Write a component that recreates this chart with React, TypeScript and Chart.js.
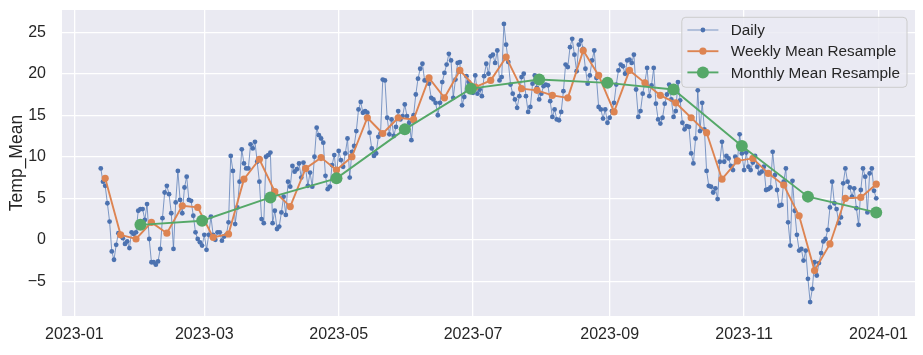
import React, { useEffect, useRef } from "react";
import { Chart, registerables } from "chart.js";

Chart.register(...registerables);

// ---------------- data ----------------
const dailyStart = "2023-01-13";
const janDaily = [8.6, 7.0, 6.5, 4.4, 2.2, -1.4, -2.4, -0.6, 0.8, 0.6, 0.2, -0.5, -0.2, -1.0, 0.9, 0.7, 0.9, 3.5, 3.7];
const febDaily = [3.7, 2.4, 4.3, 0.1, -2.7, -2.7, -3.0, -2.6, -1.1, 2.6, 5.7, 6.5, 5.5, 3.2, -1.1, 4.5, 8.3, 4.8, 3.2, 6.3, 7.6, 4.8, 4.7, 2.9, 0.9, 0.1, -0.3, -0.7];
const marDaily = [0.6, -1.2, 0.6, 2.8, 0.6, 0.0, 0.9, 0.9, -0.1, 0.4, 0.6, 2.1, 10.1, 8.3, 1.9, 3.9, 7.0, 10.9, 9.2, 8.6, 8.6, 11.5, 11.0, 11.8, 9.4, 7.0, 2.5, 2.0, 10.0, 10.2, 10.5];
const aprDaily = [2.0, 3.5, 1.3, 1.6, 3.3, 5.2, 3.0, 7.0, 6.4, 8.9, 8.2, 8.5, 9.2, 7.5, 9.3, 8.6, 6.5, 8.1, 6.4, 10.0, 13.5, 12.6, 12.2, 11.7, 7.7, 6.1, 6.4, 9.0, 10.2, 7.7];
const mayDaily = [10.7, 9.6, 8.8, 10.4, 12.2, 7.5, 10.6, 11.3, 13.1, 15.7, 16.6, 15.3, 15.5, 15.3, 12.9, 11.0, 10.1, 10.4, 12.4, 12.8, 19.3, 19.2, 14.7, 12.7, 14.5, 12.5, 13.6, 15.5, 14.5, 14.9, 16.3];
const junDaily = [14.9, 14.1, 12.0, 15.0, 17.5, 19.4, 20.6, 21.2, 19.2, 19.2, 18.8, 17.1, 16.9, 16.5, 15.0, 16.5, 19.0, 20.1, 21.1, 22.4, 21.6, 17.1, 19.3, 21.3, 21.4, 16.2, 17.2, 19.7, 19.0, 18.0];
const julDaily = [17.7, 19.8, 17.6, 18.1, 17.3, 19.7, 21.2, 20.0, 22.1, 22.3, 21.3, 22.8, 19.2, 19.6, 26.0, 23.5, 21.4, 18.7, 17.6, 16.9, 15.9, 17.3, 19.6, 20.0, 17.3, 15.4, 16.0, 18.8, 19.8, 18.3, 16.9];
const augDaily = [17.6, 18.5, 18.7, 18.6, 16.7, 14.8, 15.7, 14.5, 14.4, 15.4, 17.9, 21.1, 20.8, 23.2, 24.2, 22.3, 20.3, 23.5, 24.0, 23.0, 20.6, 18.8, 19.8, 21.6, 22.8, 19.5, 16.0, 15.7, 14.6, 15.7, 14.1];
const sepDaily = [14.7, 15.5, 16.5, 18.7, 20.4, 21.1, 20.9, 20.0, 21.6, 21.7, 21.3, 22.3, 18.1, 14.8, 15.5, 17.6, 19.0, 20.7, 17.3, 18.6, 20.7, 16.4, 14.5, 14.0, 14.7, 16.4, 17.5, 18.7, 16.9, 14.8];
const octDaily = [15.5, 19.0, 16.8, 14.1, 13.3, 13.7, 13.6, 10.4, 9.2, 12.2, 18.0, 13.1, 16.5, 13.3, 8.3, 6.5, 6.4, 5.7, 6.2, 4.9, 9.4, 11.8, 9.4, 10.1, 9.8, 8.9, 8.4, 10.0, 9.5, 12.7, 10.4];
const novDaily = [8.4, 10.5, 8.8, 8.4, 9.3, 10.1, 8.8, 8.0, 8.2, 8.8, 6.0, 6.1, 6.3, 10.6, 7.8, 6.0, 4.1, 4.2, 7.0, 8.6, 2.1, -0.7, 7.1, 3.5, 0.6, -1.3, -1.1, -2.5, -1.3, -4.7];
const decDaily = [-7.5, -5.9, -2.7, -4.3, -2.8, -1.6, -0.2, 0.1, 1.2, 3.9, 7.0, 4.4, 3.7, 2.0, 2.7, 6.8, 8.6, 7.0, 6.3, 5.2, 6.2, 3.8, 1.8, 6.0, 8.6, 7.6, 3.3, 8.0, 8.6, 5.9, 5.0];

const weeklyStart = "2023-01-15";
const weeklyMean = [
  7.4, 0.6, 0.1, 2.1, 0.8, 4.1, 3.9, 0.3, 0.7, 7.3, 9.7, 5.8, 4.0, 8.6, 9.9, 8.4, 10.0,
  14.7, 12.8, 14.7, 14.5, 19.5, 17.1, 20.4, 18.4, 19.2, 22.0, 18.2, 18.0, 17.4, 17.1,
  22.8, 19.8, 15.4, 20.4, 18.9, 17.4, 16.5, 14.7, 12.9, 7.3, 9.5, 9.8, 8.0, 6.6, 2.9,
  -3.7, -0.5, 5.0, 5.1, 6.7,
];

const monthEnds = ["2023-01-31", "2023-02-28", "2023-03-31", "2023-04-30", "2023-05-31", "2023-06-30", "2023-07-31", "2023-08-31", "2023-09-30", "2023-10-31", "2023-11-30", "2023-12-31"];
const monthlyMean = [1.8, 2.3, 5.1, 7.4, 13.3, 18.2, 19.3, 18.9, 18.1, 11.3, 5.2, 3.3];

const xTickDates = ["2023-01-01", "2023-03-01", "2023-05-01", "2023-07-01", "2023-09-01", "2023-11-01", "2024-01-01"];
const xTickLabels = ["2023-01", "2023-03", "2023-05", "2023-07", "2023-09", "2023-11", "2024-01"];
const yTickValues = [-5, 0, 5, 10, 15, 20, 25];
const seriesLabels = ["Daily", "Weekly Mean Resample", "Monthly Mean Resample"];
const yAxisTitle = "Temp_Mean";

// ---------------- helpers ----------------
const ORIGIN = Date.UTC(2023, 0, 1);
const DAY_MS = 86400000;
const dayIndex = (s: string) => (Date.parse(s + "T00:00:00Z") - ORIGIN) / DAY_MS;

const COLORS = ["#4C72B0", "#DD8452", "#55A868"];
const FONT = '"Liberation Sans", Arial, Helvetica, sans-serif';
const TEXT = "#262626";
const TICK_SIZE = 16;

const dailyValues = [
  ...janDaily, ...febDaily, ...marDaily, ...aprDaily, ...mayDaily, ...junDaily,
  ...julDaily, ...augDaily, ...sepDaily, ...octDaily, ...novDaily, ...decDaily,
];
const d0 = dayIndex(dailyStart);
const dailyPts = dailyValues.map((v, i) => ({ x: d0 + i, y: v }));
const w0 = dayIndex(weeklyStart);
const weeklyPts = weeklyMean.map((v, i) => ({ x: w0 + 7 * i, y: v }));
const monthlyPts = monthlyMean.map((v, i) => ({ x: dayIndex(monthEnds[i]), y: v }));
const xTickDays = xTickDates.map(dayIndex);

// matplotlib-style 5% margins
const xLo = d0, xHi = d0 + dailyValues.length - 1;
const xPad = (xHi - xLo) * 0.05;
const yLo = Math.min(...dailyValues), yHi = Math.max(...dailyValues);
const yPad = (yHi - yLo) * 0.05;

const bgPlugin = {
  id: "axesBg",
  beforeDraw(chart: any) {
    const { ctx, chartArea: a } = chart;
    ctx.save();
    ctx.fillStyle = "#EAEAF2";
    ctx.fillRect(a.left, a.top, a.right - a.left, a.bottom - a.top);
    ctx.restore();
  },
};

const radii = [2.4, 3.6, 6];
const widths = [0.7, 1.9, 1.9];

const legendPlugin = {
  id: "mplLegend",
  afterDatasetsDraw(chart: any) {
    const { ctx, chartArea: a } = chart;
    ctx.save();
    ctx.font = `15.3px ${FONT}`;
    const maxW = Math.max(...seriesLabels.map((t) => ctx.measureText(t).width));
    const handleL = 5.6, handleLen = 31, textOff = 49, padR = 7;
    const boxW = textOff + maxW + padR;
    const boxH = 70;
    const x0 = a.right - 8 - boxW;
    const y0 = a.top + 7.3;
    const r = 4;
    ctx.beginPath();
    ctx.moveTo(x0 + r, y0);
    ctx.lineTo(x0 + boxW - r, y0);
    ctx.arcTo(x0 + boxW, y0, x0 + boxW, y0 + r, r);
    ctx.lineTo(x0 + boxW, y0 + boxH - r);
    ctx.arcTo(x0 + boxW, y0 + boxH, x0 + boxW - r, y0 + boxH, r);
    ctx.lineTo(x0 + r, y0 + boxH);
    ctx.arcTo(x0, y0 + boxH, x0, y0 + boxH - r, r);
    ctx.lineTo(x0, y0 + r);
    ctx.arcTo(x0, y0, x0 + r, y0, r);
    ctx.closePath();
    ctx.fillStyle = "rgba(234,234,242,0.8)";
    ctx.fill();
    ctx.strokeStyle = "#cccccc";
    ctx.lineWidth = 1;
    ctx.stroke();
    seriesLabels.forEach((label, i) => {
      const cy = y0 + 12.7 + i * 21.2;
      ctx.strokeStyle = COLORS[i];
      ctx.lineWidth = widths[i];
      ctx.beginPath();
      ctx.moveTo(x0 + handleL, cy);
      ctx.lineTo(x0 + handleL + handleLen, cy);
      ctx.stroke();
      ctx.fillStyle = COLORS[i];
      ctx.beginPath();
      ctx.arc(x0 + handleL + handleLen / 2, cy, radii[i], 0, Math.PI * 2);
      ctx.fill();
      ctx.fillStyle = TEXT;
      ctx.textBaseline = "middle";
      ctx.textAlign = "left";
      ctx.fillText(label, x0 + textOff, cy + 1);
    });
    ctx.restore();
  },
};

const zeroPad = (s: any) => {
  s.paddingTop = 0;
  s.paddingBottom = 0;
  s.paddingLeft = 0;
  s.paddingRight = 0;
};

export default function App() {
  const ref = useRef<HTMLCanvasElement | null>(null);

  useEffect(() => {
    document.body.style.margin = "0";
    if (!ref.current) return;
    const mk = (i: number, data: any[], order: number) => ({
      label: seriesLabels[i],
      data,
      order,
      borderColor: COLORS[i],
      backgroundColor: COLORS[i],
      borderWidth: widths[i],
      pointRadius: radii[i],
      pointBorderWidth: 0,
      pointBackgroundColor: COLORS[i],
      pointHoverRadius: radii[i],
      tension: 0,
      fill: false,
    });
    const chart = new Chart(ref.current, {
      type: "line",
      data: {
        datasets: [mk(0, dailyPts, 3), mk(1, weeklyPts, 2), mk(2, monthlyPts, 1)],
      },
      options: {
        animation: false,
        responsive: false,
        devicePixelRatio: 1,
        events: [],
        layout: { padding: { left: 0, right: 8, top: 10, bottom: 0 } },
        plugins: { legend: { display: false }, tooltip: { enabled: false } },
        scales: {
          x: {
            type: "linear",
            min: xLo - xPad,
            max: xHi + xPad,
            afterBuildTicks: (s: any) => {
              s.ticks = xTickDays.map((v) => ({ value: v }));
            },
            afterFit: (s: any) => {
              s.height = 39;
              zeroPad(s);
            },
            grid: { color: "#ffffff", lineWidth: 1.3, drawTicks: false },
            border: { display: false },
            ticks: {
              autoSkip: false,
              maxRotation: 0,
              minRotation: 0,
              padding: 9,
              color: TEXT,
              font: { family: FONT, size: TICK_SIZE },
              callback: (_v: any, idx: number) => xTickLabels[idx],
            },
          },
          y: {
            type: "linear",
            min: yLo - yPad,
            max: yHi + yPad,
            afterBuildTicks: (s: any) => {
              s.ticks = yTickValues.map((v) => ({ value: v }));
            },
            afterFit: (s: any) => {
              s.width = 62;
              zeroPad(s);
            },
            grid: { color: "#ffffff", lineWidth: 1.3, drawTicks: false },
            border: { display: false },
            ticks: {
              padding: 16,
              color: TEXT,
              font: { family: FONT, size: TICK_SIZE },
              callback: (v: any) => (Number(v) < 0 ? "\u2212" + Math.abs(Number(v)) : String(v)),
            },
            title: {
              display: true,
              text: yAxisTitle,
              color: TEXT,
              font: { family: FONT, size: 17.5 },
              padding: { top: 7, bottom: 7 },
            },
          },
        },
      },
      plugins: [bgPlugin, legendPlugin],
    } as any);
    return () => chart.destroy();
  }, []);

  return (
    <div style={{ width: 923, height: 355 }}>
      <canvas ref={ref} width={923} height={355} style={{ display: "block" }} />
    </div>
  );
}
